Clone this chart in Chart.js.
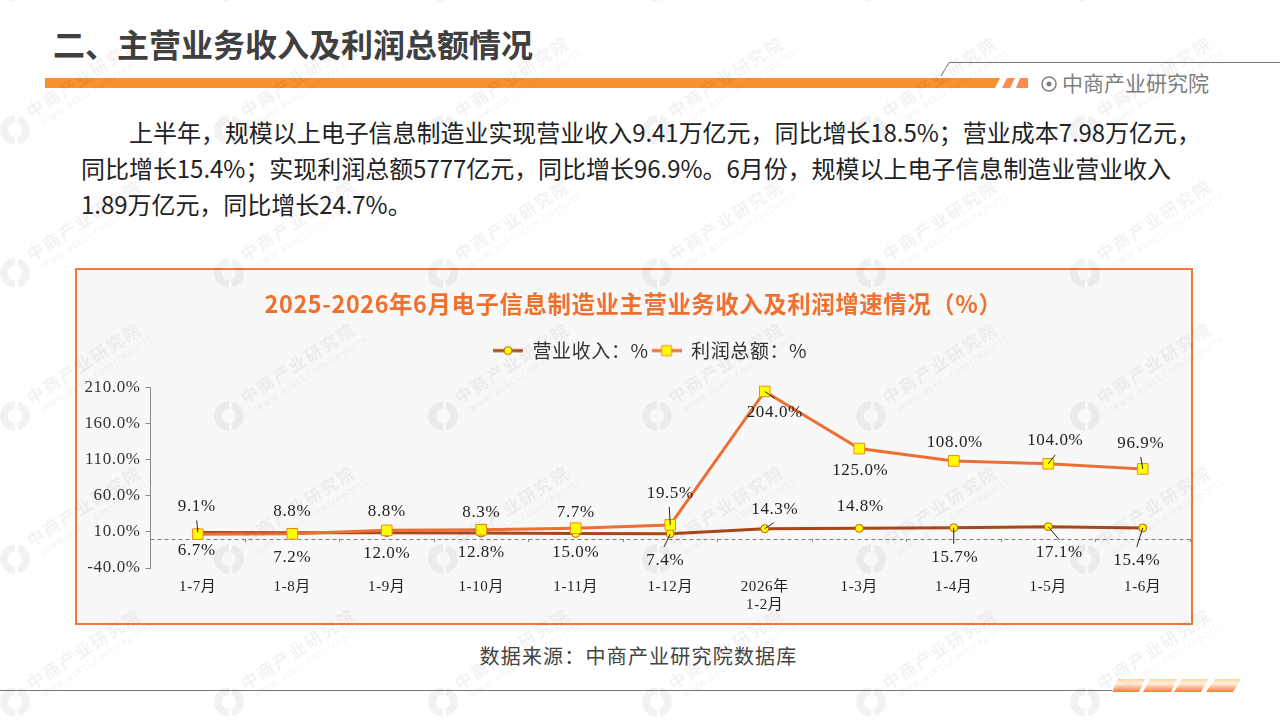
<!DOCTYPE html>
<html lang="zh">
<head>
<meta charset="utf-8">
<title>主营业务收入及利润总额情况</title>
<script src="https://cdn.jsdelivr.net/npm/chart.js@4"></script>
<style>
html, body { margin: 0; padding: 0; background: #fff; }
body { width: 1280px; height: 720px; position: relative; overflow: hidden; font-family: "Noto Sans CJK SC", "Noto Sans", sans-serif; }
.pagetitle { position: absolute; left: 53px; top: 20px; font-size: 32px; line-height: 46px; font-weight: 700; color: #404040; white-space: nowrap; }
.brand { position: absolute; left: 1062px; top: 67px; font-size: 21px; line-height: 30px; color: #7f7f7f; white-space: nowrap; }
.para { position: absolute; left: 81px; top: 114px; font-size: 24px; line-height: 36px; color: #222; white-space: nowrap; letter-spacing: -0.04px; }
.para .first { padding-left: 48px; }
.box { position: absolute; left: 75px; top: 268px; width: 1114px; height: 353px; border: 2px solid #f0793a; background: #f8f8f8; }
.box canvas { display: block; }
.source { position: absolute; left: 0; width: 1277px; top: 641px; text-align: center; font-size: 20px; line-height: 30px; color: #444; letter-spacing: 1.2px; }
.deco { position: absolute; left: 0; top: 0; }
.wm { position: absolute; left: 0; top: 0; width: 1280px; height: 720px; overflow: hidden; pointer-events: none; }
.wm .ring { position: absolute; width: 30px; height: 30px; border-radius: 50%;
  background: conic-gradient(from 15deg, rgba(0,0,0,0.05) 0 150deg, transparent 150deg 165deg, rgba(0,0,0,0.05) 165deg 345deg, transparent 345deg 360deg);
  -webkit-mask: radial-gradient(circle, transparent 7px, #000 7.5px); mask: radial-gradient(circle, transparent 7px, #000 7.5px); }
.wm .cn, .wm .en { position: absolute; white-space: nowrap; transform-origin: left center; transform: rotate(-33deg); color: rgba(0,0,0,0.05); }
.wm .cn { font-size: 17px; line-height: 20px; letter-spacing: 2px; font-weight: 700; }
.wm .en { font-size: 10.5px; line-height: 14px; letter-spacing: 0.8px; font-family: "Noto Sans", sans-serif; }
</style>
</head>
<body>
<svg class="deco" width="1280" height="720">
  <defs>
    <linearGradient id="stripe" x1="0" y1="0" x2="0" y2="1">
      <stop offset="0" stop-color="#ffd69a"/>
      <stop offset="0.35" stop-color="#fff0e0"/>
      <stop offset="1" stop-color="#ff7a33"/>
    </linearGradient>
  </defs>
  <polygon points="45,78 1000,78 995,88 45,88" fill="#f7922e"/>
  <polygon points="1007,78 1015,78 1010,88 1002,88" fill="#ff8c4f"/>
  <polygon points="1020,78 1028,78 1028,88 1016,88" fill="#ff8c4f"/>
  <polyline points="941,76 949,62.5 1280,62.5" fill="none" stroke="#777" stroke-width="1"/>
  <circle cx="1049" cy="84" r="7" fill="none" stroke="#7f7f7f" stroke-width="1.5"/>
  <circle cx="1049" cy="84" r="2.5" fill="#7f7f7f"/>
  <line x1="0" y1="690.5" x2="1112" y2="690.5" stroke="#777" stroke-width="1"/>
  <polygon points="1118,679 1145,679 1139,692 1112,692" fill="url(#stripe)"/>
  <polygon points="1150,679 1177,679 1171,692 1143,692" fill="url(#stripe)"/>
  <polygon points="1182,679 1208,679 1201,692 1174,692" fill="url(#stripe)"/>
  <polygon points="1215,679 1241,679 1233,692 1206,692" fill="url(#stripe)"/>
</svg>
<div class="pagetitle">二、主营业务收入及利润总额情况</div>
<div class="brand">中商产业研究院</div>
<div class="para"><span class="first">上半年，规模以上电子信息制造业实现营业收入9.41万亿元，同比增长18.5%；营业成本7.98万亿元，</span><br>同比增长15.4%；实现利润总额5777亿元，同比增长96.9%。6月份，规模以上电子信息制造业营业收入<br>1.89万亿元，同比增长24.7%。</div>
<div class="box"><canvas id="mycanvas" width="1114" height="353" style="width:1114px;height:353px"></canvas></div>
<div class="source">数据来源：中商产业研究院数据库</div>
<div class="wm" id="wm"></div>

<script>
var categories = ["1-7月", "1-8月", "1-9月", "1-10月", "1-11月", "1-12月", ["2026年", "1-2月"], "1-3月", "1-4月", "1-5月", "1-6月"];
var revenue = [9.1, 8.8, 8.8, 8.3, 7.7, 7.4, 14.3, 14.8, 15.7, 17.1, 15.4];
var profit = [6.7, 7.2, 12.0, 12.8, 15.0, 19.5, 204.0, 125.0, 108.0, 104.0, 96.9];

// where each value label sits relative to its point, and the end of its leader line
var revenueLabelAt = [[-1,-26],[0,-21],[0,-21],[0,-21],[0,-21],[-5,27],[10,-19],[1,-22],[1,30],[11,26],[-6,33]];
var revenueLeader = [[-1,-12],null,null,null,null,[-6,13],[9,-6],null,[0,16],[11,13],[-6,19]];
var profitLabelAt = [[-1,16],[0,24],[0,23],[0,23],[0,24],[0,-31],[10,21],[1,22],[1,-18],[7,-23],[-2,-25]];
var profitLeader = [null,null,null,null,null,[-1,-18],[10,7],null,null,[7,-9],[-2,-12]];

var serif = '"Liberation Serif", "Noto Sans CJK SC", serif';
var revenueColor = "#a8471a";
var profitColor = "#ee6f35";

// legend icon: short line with the marker in the middle
function legendIcon(lineColor, square) {
    var c = document.createElement("canvas");
    c.width = 30;
    c.height = 14;
    var x = c.getContext("2d");
    x.strokeStyle = lineColor;
    x.lineWidth = 3;
    x.beginPath();
    x.moveTo(0, 7);
    x.lineTo(30, 7);
    x.stroke();
    x.fillStyle = "#ffff00";
    x.lineWidth = 1;
    x.strokeStyle = square ? "#ee8a20" : "#c05a12";
    x.beginPath();
    if (square) {
        x.rect(10, 2, 10, 10);
    } else {
        x.arc(15, 7, 4, 0, Math.PI * 2);
    }
    x.fill();
    x.stroke();
    return c;
}

var spacingPlugin = {
    id: "spacing",
    beforeLayout: function(chart) {
        // extra room under the legend
        var legend = chart.legend;
        if (!legend.baseFit) {
            legend.baseFit = legend.fit;
            legend.fit = function() {
                this.baseFit();
                this.height += 17;
            };
        }
    },
    afterLayout: function(chart) {
        // legend sits right of centre in the original
        chart.legend.left += 13;
        chart.legend.right += 13;
    },
    beforeDraw: function(chart) {
        chart.ctx.letterSpacing = "0.6px";
    }
};

var zeroLinePlugin = {
    id: "zeroLine",
    beforeDatasetsDraw: function(chart) {
        var ctx = chart.ctx;
        var y = Math.floor(chart.scales.y.getPixelForValue(0)) + 0.5;
        ctx.save();
        ctx.strokeStyle = "#808080";
        ctx.lineWidth = 1;
        ctx.setLineDash([4, 3]);
        ctx.beginPath();
        ctx.moveTo(chart.chartArea.left, y);
        ctx.lineTo(chart.chartArea.right, y);
        ctx.stroke();
        ctx.restore();
    }
};

var valueLabelPlugin = {
    id: "valueLabels",
    afterDatasetsDraw: function(chart) {
        var ctx = chart.ctx;
        var sets = [[0, revenue, revenueLabelAt, revenueLeader], [1, profit, profitLabelAt, profitLeader]];
        ctx.save();
        ctx.font = "17px " + serif;
        ctx.textAlign = "center";
        ctx.textBaseline = "middle";
        sets.forEach(function(s) {
            var points = chart.getDatasetMeta(s[0]).data;
            s[1].forEach(function(v, i) {
                var p = points[i];
                if (s[3][i]) {
                    ctx.strokeStyle = "#222";
                    ctx.lineWidth = 1;
                    ctx.beginPath();
                    ctx.moveTo(p.x, p.y);
                    ctx.lineTo(p.x + s[3][i][0], p.y + s[3][i][1]);
                    ctx.stroke();
                }
                ctx.fillStyle = "#222";
                ctx.fillText(v.toFixed(1) + "%", p.x + s[2][i][0], p.y + s[2][i][1]);
            });
        });
        ctx.restore();
    }
};

var chardata = {
    labels: categories,
    datasets: [
        {
            label: "营业收入：%",
            data: revenue,
            order: 2,
            clip: false,
            borderColor: revenueColor,
            borderWidth: 3,
            tension: 0,
            pointStyle: "circle",
            pointRadius: 4,
            pointBackgroundColor: "#ffff00",
            pointBorderColor: "#c05a12",
            pointBorderWidth: 1
        },
        {
            label: "利润总额：%",
            data: profit,
            order: 1,
            clip: false,
            borderColor: profitColor,
            borderWidth: 3,
            tension: 0,
            pointStyle: "rect",
            pointRadius: 7.5,
            pointBackgroundColor: "#ffff00",
            pointBorderColor: "#ee8a20",
            pointBorderWidth: 1
        }
    ]
};

var ctx = document.getElementById("mycanvas");
var LineGraph = new Chart(ctx, {
    type: "line",
    data: chardata,
    plugins: [spacingPlugin, zeroLinePlugin, valueLabelPlugin],
    options: {
        responsive: false,
        animation: false,
        devicePixelRatio: 1,
        layout: { autoPadding: false, padding: { left: 0, right: 1, top: 0, bottom: 55 } },
        plugins: {
            title: {
                display: true,
                text: "2025-2026年6月电子信息制造业主营业务收入及利润增速情况（%）",
                color: "#f0702e",
                font: { family: '"Noto Sans CJK SC", sans-serif', size: 23.4, weight: "bold" },
                padding: { top: 20, bottom: 20 }
            },
            legend: {
                position: "top",
                labels: {
                    color: "#333",
                    font: { family: '"Noto Sans CJK SC", sans-serif', size: 19 },
                    usePointStyle: true,
                    pointStyleWidth: 30,
                    padding: 3,
                    sort: function(a, b) { return a.datasetIndex - b.datasetIndex; },
                    generateLabels: function(chart) {
                        var items = Chart.defaults.plugins.legend.labels.generateLabels(chart);
                        items.forEach(function(item) {
                            item.pointStyle = item.datasetIndex === 0 ? legendIcon(revenueColor, false) : legendIcon(profitColor, true);
                        });
                        return items;
                    }
                }
            },
            tooltip: { enabled: false }
        },
        scales: {
            y: {
                min: -40,
                max: 210,
                afterFit: function(scale) {
                    scale.width = 73.5;
                    scale.paddingTop = 0;
                    scale.paddingBottom = 0;
                },
                ticks: {
                    stepSize: 50,
                    color: "#333",
                    padding: 5,
                    font: { family: serif, size: 17 },
                    callback: function(v) { return v.toFixed(1) + "%"; }
                },
                grid: { drawOnChartArea: false, tickLength: 5, color: "#888" },
                border: { color: "#888" }
            },
            x: {
                position: { y: 0 },
                offset: true,
                afterFit: function(scale) {
                    scale.paddingLeft = 0;
                    scale.paddingRight = 0;
                },
                ticks: {
                    color: "#222",
                    padding: 36,
                    autoSkip: false,
                    maxRotation: 0,
                    font: { family: serif, size: 15 }
                },
                grid: { drawOnChartArea: false, offset: true, tickLength: 3, color: "#888" },
                border: { display: false }
            }
        }
    }
});

// background watermark tiles
var wm = document.getElementById("wm");
for (var row = 0; row < 6; row++) {
    for (var col = 0; col < 6; col++) {
        var ox = 15 + col * 214;
        var oy = -13 + row * 143;
        wm.insertAdjacentHTML("beforeend",
            '<div class="ring" style="left:' + (ox - 15) + 'px;top:' + (oy - 15) + 'px"></div>' +
            '<div class="cn" style="left:' + (ox + 13) + 'px;top:' + (oy - 27) + 'px">中商产业研究院</div>' +
            '<div class="en" style="left:' + (ox + 26) + 'px;top:' + (oy - 14) + 'px">www.askci.com/reports</div>');
    }
}
</script>
</body>
</html>
